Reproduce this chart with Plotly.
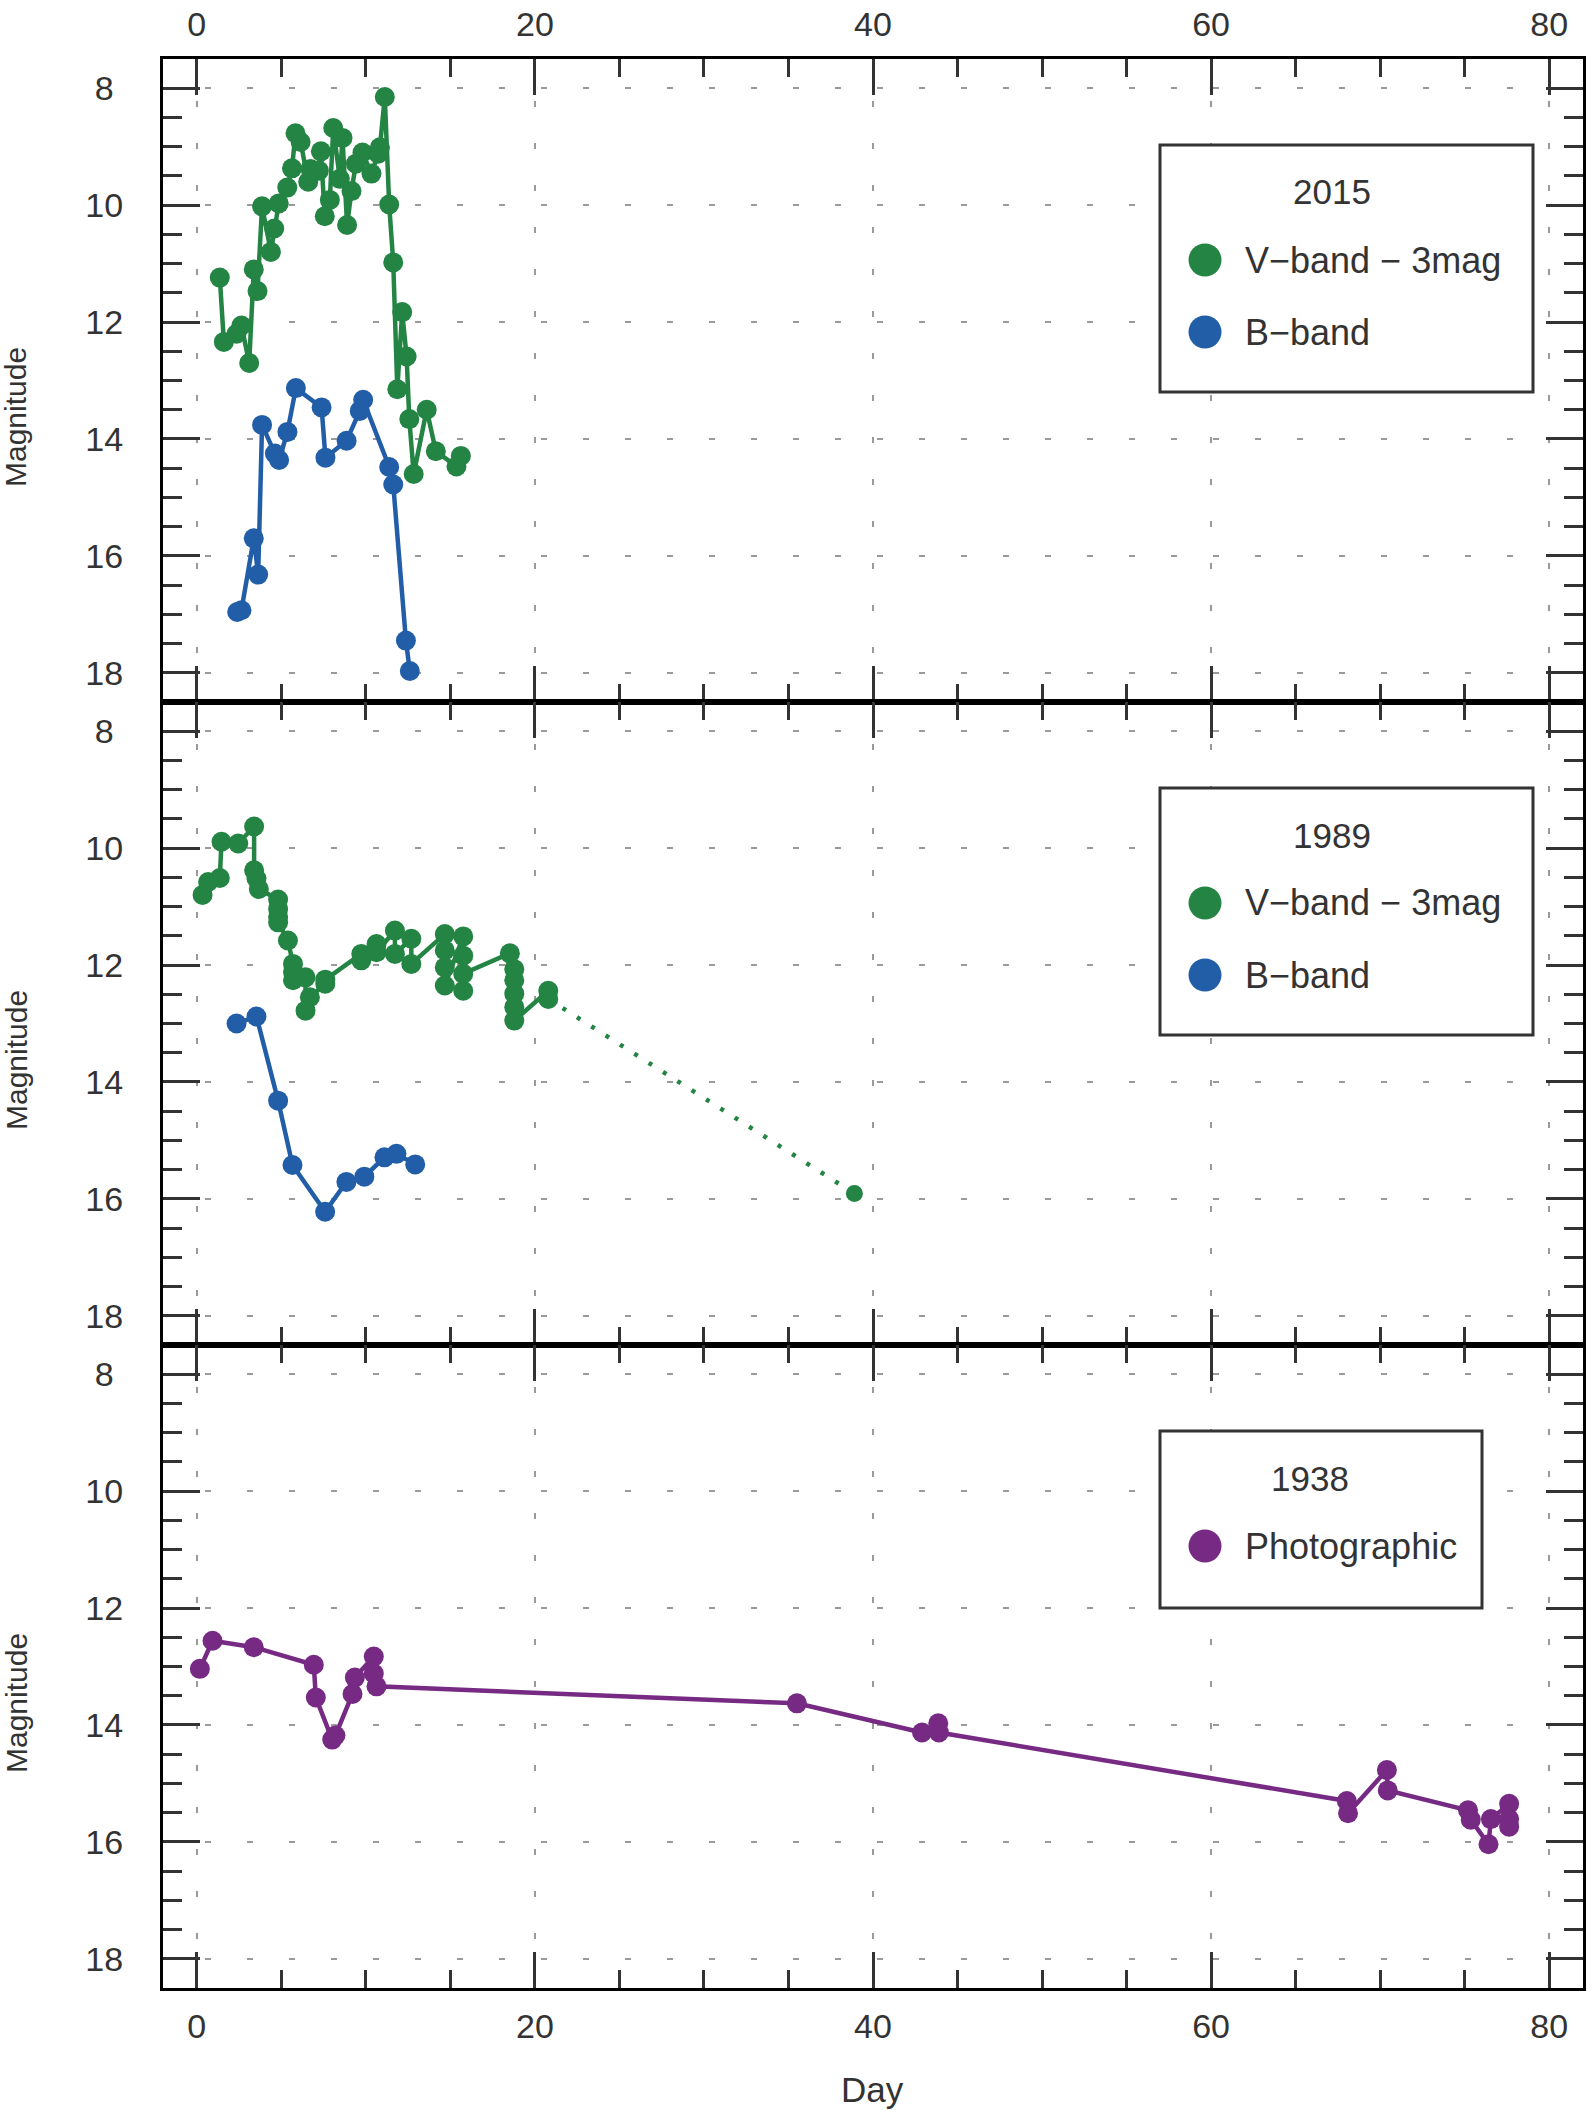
import plotly.graph_objects as go
from plotly.subplots import make_subplots

# ---------------- data ----------------
# 2015 outburst
v2015_day = [1.36, 1.60, 2.35, 2.64, 3.10, 3.37, 3.59, 3.86, 4.38, 4.58, 4.85, 5.35, 5.63, 5.84,
             6.14, 6.59, 6.73, 7.22, 7.34, 7.57, 7.87, 8.07, 8.46, 8.62, 8.89, 9.15, 9.41, 9.80,
             10.33, 10.73, 10.83, 11.12, 11.38, 11.62, 11.86, 12.15, 12.41, 12.57, 12.83, 13.60,
             14.14, 15.36, 15.62]
v2015_mag = [11.24, 12.34, 12.20, 12.06, 12.70, 11.10, 11.47, 10.02, 10.80, 10.40, 9.97, 9.70, 9.37, 8.77,
             8.92, 9.60, 9.38, 9.41, 9.08, 10.19, 9.91, 8.68, 9.55, 8.85, 10.34, 9.76, 9.29, 9.10,
             9.46, 9.12, 9.01, 8.15, 9.99, 10.98, 13.15, 11.83, 12.59, 13.66, 14.60, 13.50,
             14.21, 14.47, 14.29]
b2015_day = [2.39, 2.64, 3.37, 3.63, 3.86, 4.62, 4.87, 5.36, 5.86, 7.38, 7.61, 8.86, 9.64, 9.84,
             11.38, 11.62, 12.37, 12.60]
b2015_mag = [16.96, 16.93, 15.70, 16.32, 13.76, 14.25, 14.36, 13.88, 13.13, 13.46, 14.32, 14.03, 13.52, 13.33,
             14.48, 14.78, 17.45, 17.97]

# 1989 outburst
v1989_day = [0.34, 0.67, 1.36, 1.46, 2.45, 3.39, 3.39, 3.53, 3.67, 4.81, 4.81, 4.81, 4.81, 5.39,
             5.69, 5.69, 5.69, 6.43, 6.43, 6.69, 7.60, 7.60, 9.73, 9.73, 10.63, 10.63, 11.72, 11.72,
             12.69, 12.69, 14.67, 14.67, 14.67, 14.67, 15.76, 15.76, 15.76, 15.76, 18.52,
             18.78, 18.78, 18.78, 18.78, 18.78, 20.79, 20.79]
v1989_mag = [10.80, 10.58, 10.51, 9.89, 9.92, 9.63, 10.38, 10.52, 10.70, 10.88, 11.04, 11.18, 11.27, 11.58,
             11.98, 12.12, 12.26, 12.21, 12.78, 12.55, 12.32, 12.25, 11.81, 11.92, 11.64, 11.78, 11.41, 11.81,
             11.55, 11.98, 11.47, 11.75, 12.04, 12.35, 11.51, 11.84, 12.44, 12.15, 11.80,
             12.07, 12.26, 12.49, 12.72, 12.95, 12.44, 12.58]
v1989_late_day = [38.9]
v1989_late_mag = [15.91]
b1989_day = [2.35, 3.53, 4.81, 5.66, 7.59, 8.85, 9.91, 11.10, 11.81, 12.92]
b1989_mag = [13.00, 12.88, 14.32, 15.42, 16.22, 15.71, 15.62, 15.29, 15.23, 15.41]

# 1938 outburst
pg1938_day = [0.18, 0.93, 3.37, 6.92, 7.04, 8.01, 8.20, 9.21, 9.35, 10.47, 10.47, 10.63, 35.50,
              42.90, 43.86, 43.90, 68.03, 68.10, 70.40, 70.45, 75.20, 75.36, 76.41, 76.55,
              77.63, 77.63, 77.63]
pg1938_mag = [13.04, 12.56, 12.67, 12.97, 13.53, 14.25, 14.18, 13.47, 13.19, 12.83, 13.12, 13.34, 13.63,
              14.13, 13.97, 14.13, 15.30, 15.51, 14.77, 15.12, 15.46, 15.62, 16.04, 15.61,
              15.35, 15.61, 15.74]

panel_titles = ["2015", "1989", "1938"]
x_ticks = [0, 20, 40, 60, 80]
y_ticks = [8, 10, 12, 14, 16, 18]

GREEN = "#238443"
BLUE = "#225ea8"
PURPLE = "#762a83"
INK = "#333333"
FONT = "Liberation Sans, Arial, Helvetica, sans-serif"

# ---------------- figure ----------------
W, H = 1587, 2110
ML, MR, MT, MB = 163, 4, 59, 122
PW, PH = W - ML - MR, H - MT - MB

fig = make_subplots(rows=3, cols=1, shared_xaxes=True, vertical_spacing=0)

MS = 20
LW = 4.5


def add_series(x, y, color, row):
    fig.add_trace(go.Scatter(x=x, y=y, mode="lines+markers",
                             line=dict(color=color, width=LW),
                             marker=dict(color=color, size=MS, line=dict(width=0)),
                             showlegend=False), row=row, col=1)


add_series(v2015_day, v2015_mag, GREEN, 1)
add_series(b2015_day, b2015_mag, BLUE, 1)
add_series(v1989_day, v1989_mag, GREEN, 2)
fig.add_trace(go.Scatter(x=[v1989_day[-1]] + v1989_late_day, y=[v1989_mag[-1]] + v1989_late_mag,
                         mode="lines", line=dict(color=GREEN, width=4.5, dash="4px,13px"),
                         showlegend=False), row=2, col=1)
fig.add_trace(go.Scatter(x=v1989_late_day, y=v1989_late_mag, mode="markers",
                         marker=dict(color=GREEN, size=17, line=dict(width=0)),
                         showlegend=False), row=2, col=1)
add_series(b1989_day, b1989_mag, BLUE, 2)
add_series(pg1938_day, pg1938_mag, PURPLE, 3)

grid_kw = dict(showgrid=True, gridcolor="#9a9a9a", gridwidth=2, griddash="6px,36px", zeroline=False)
line_kw = dict(showline=True, linewidth=3, linecolor="black", mirror="ticks", automargin=False)

# single-digit labels padded so that they sit centred like in the reference
y_ticktext = [str(v) + ("\u00a0" if v < 10 else "") for v in y_ticks]

for r in (1, 2, 3):
    fig.update_xaxes(range=[-2, 82], tickvals=x_ticks, ticktext=[str(v) for v in x_ticks],
                     ticks="inside", ticklen=36, tickwidth=3, tickcolor=INK,
                     minor=dict(dtick=5, tick0=0, ticks="inside", ticklen=18, tickwidth=3,
                                tickcolor=INK, showgrid=False),
                     tickfont=dict(size=34, color=INK, family=FONT),
                     showticklabels=(r != 2),
                     **grid_kw, **line_kw, row=r, col=1)
    fig.update_yaxes(range=[18.5, 7.5], tickvals=y_ticks, ticktext=y_ticktext,
                     ticks="inside", ticklen=37, tickwidth=3, tickcolor=INK,
                     minor=dict(dtick=0.5, tick0=0, ticks="inside", ticklen=19, tickwidth=3,
                                tickcolor=INK, showgrid=False),
                     tickfont=dict(size=34, color=INK, family=FONT),
                     ticklabelstandoff=30,
                     **grid_kw, **line_kw, row=r, col=1)

fig.update_xaxes(side="top", ticklabelstandoff=6, row=1, col=1)
fig.update_xaxes(side="bottom", ticklabelstandoff=6, row=3, col=1)


def px2x(px):
    return (px - ML) / PW


def py2y(py):
    return (H - MB - py) / PH


shapes = []
annotations = []
panel_h = PH / 3.0
legend_items = [
    [("V\u2212band \u2212 3mag", GREEN), ("B\u2212band", BLUE)],
    [("V\u2212band \u2212 3mag", GREEN), ("B\u2212band", BLUE)],
    [("Photographic", PURPLE)],
]
legend_right = [1533, 1533, 1482]
title_cx = [1332, 1332, 1310]

for i in range(3):
    top = MT + i * panel_h
    items = legend_items[i]
    box_top = top + 86
    box_bot = top + (333 if len(items) == 2 else 263)
    shapes.append(dict(type="rect", xref="paper", yref="paper",
                       x0=px2x(1160), x1=px2x(legend_right[i]), y0=py2y(box_bot), y1=py2y(box_top),
                       line=dict(color=INK, width=3), fillcolor="white", layer="above"))
    annotations.append(dict(xref="paper", yref="paper", x=px2x(title_cx[i]), y=py2y(top + 133),
                            text=panel_titles[i], showarrow=False, xanchor="center", yanchor="middle",
                            font=dict(size=35, color=INK, family=FONT)))
    for j, (label, color) in enumerate(items):
        cy = top + 201 + j * 72
        r = 16.5
        shapes.append(dict(type="circle", xref="paper", yref="paper",
                           x0=px2x(1205 - r), x1=px2x(1205 + r), y0=py2y(cy + r), y1=py2y(cy - r),
                           fillcolor=color, line=dict(width=0), layer="above"))
        annotations.append(dict(xref="paper", yref="paper", x=px2x(1243), y=py2y(cy),
                                text=label, showarrow=False, xanchor="left", yanchor="middle",
                                font=dict(size=36, color=INK, family=FONT)))
    # y-axis title
    annotations.append(dict(xref="paper", yref="paper", x=px2x(16), y=py2y(top + 358),
                            text="Magnitude", textangle=-90, showarrow=False,
                            xanchor="center", yanchor="middle",
                            font=dict(size=30, color=INK, family=FONT)))

annotations.append(dict(xref="paper", yref="paper", x=px2x(872), y=py2y(2089),
                        text="Day", showarrow=False, xanchor="center", yanchor="middle",
                        font=dict(size=35, color=INK, family=FONT)))

fig.update_layout(width=W, height=H, margin=dict(l=ML, r=MR, t=MT, b=MB, pad=0),
                  paper_bgcolor="white", plot_bgcolor="white",
                  font=dict(family=FONT, color=INK, size=34),
                  shapes=shapes, annotations=annotations, showlegend=False)

fig.write_html("out.html")
